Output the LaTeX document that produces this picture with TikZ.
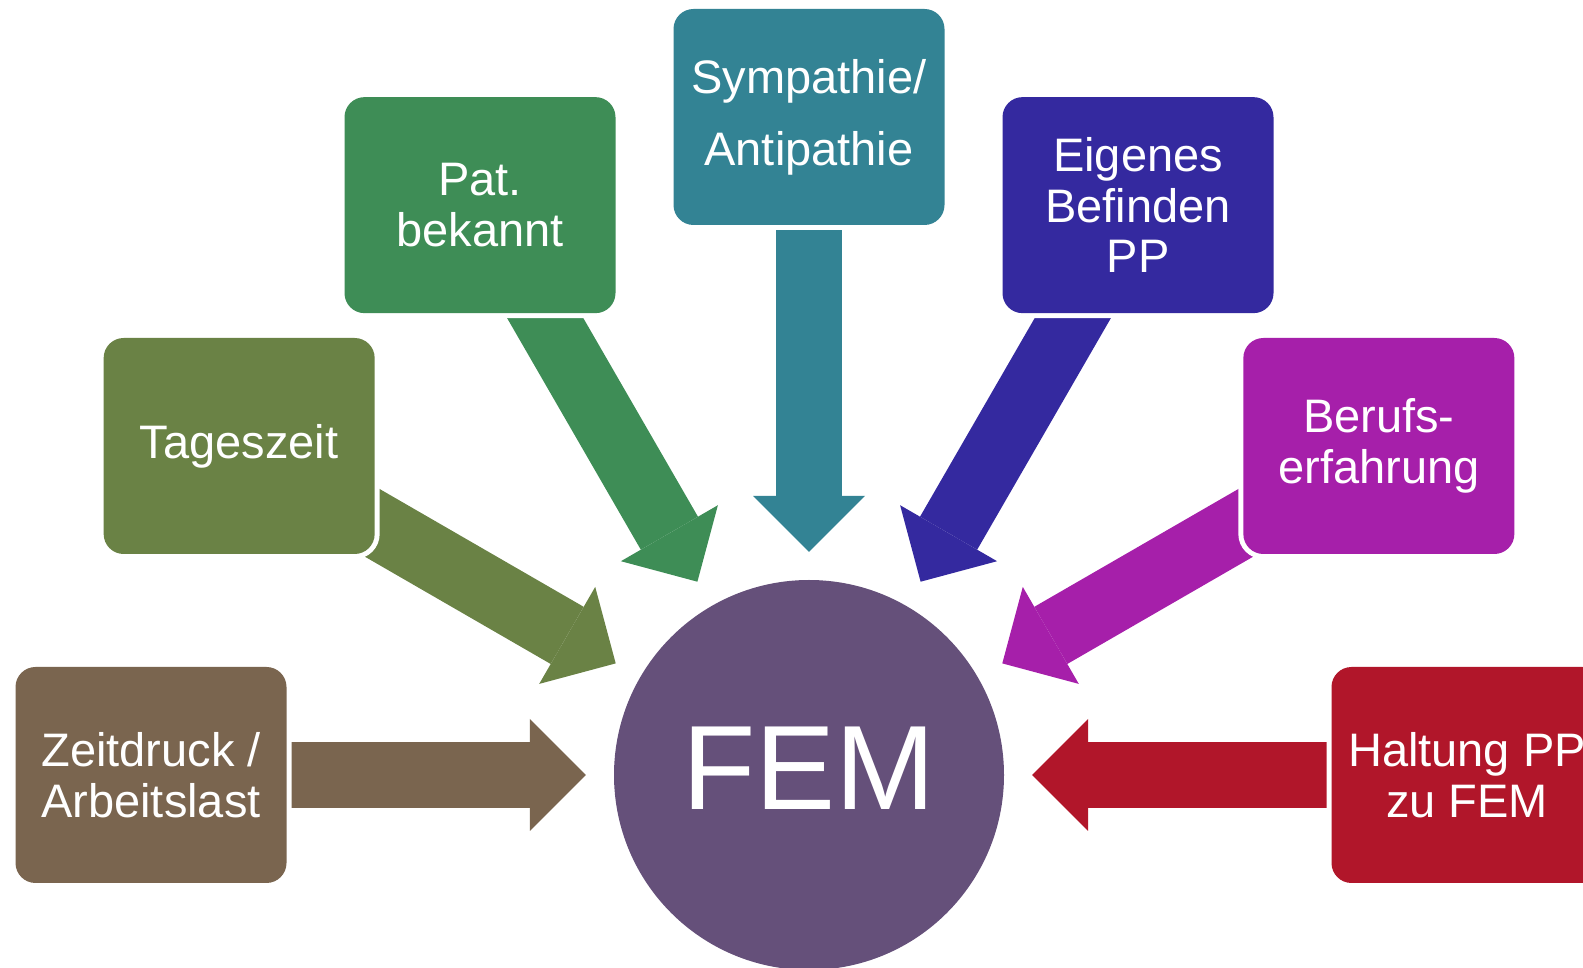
\documentclass[tikz,border=0pt]{standalone}
\usepackage{fontspec}
\setmainfont{Liberation Sans}
\usetikzlibrary{arrows.meta}
\pgfdeclarelayer{background}
\pgfsetlayers{background,main}

\definecolor{zeitc}{HTML}{7A654F}
\definecolor{tagesc}{HTML}{6A8245}
\definecolor{patc}{HTML}{3E8D56}
\definecolor{sympc}{HTML}{338394}
\definecolor{eigenc}{HTML}{34299F}
\definecolor{berufc}{HTML}{A61FAA}
\definecolor{haltc}{HTML}{B1162A}
\definecolor{femc}{HTML}{65507A}

\begin{document}
\begin{tikzpicture}[x=1pt, y=1pt,
    box/.style={rounded corners=20pt, minimum width=271pt, minimum height=216pt,
      inner sep=0pt, text=white, align=center, font=\fontsize{47}{50.5}\selectfont,
      preaction={draw=white, line width=10pt}},
    fatarrow/.style={line width=66pt, -{Triangle[width=112pt, length=56pt, line width=0pt]},
      shorten >=28pt}]
  % Canvas
  \useasboundingbox (0,0) rectangle (1583,967);

  % Centre
  \node[circle, fill=femc, minimum size=390pt, inner sep=0pt, text=white,
    font=\fontsize{120}{120}\selectfont, text depth=14pt] (fem) at (809,192) {FEM};

  % Factors round the centre
  \node[box, fill=zeitc] (zeit) at ([shift={(180:658)}]fem.center) {Zeitdruck /\\Arbeitslast};
  \node[box, fill=tagesc] (tages) at ([shift={(150:658)}]fem.center) {Tageszeit};
  \node[box, fill=patc] (pat) at ([shift={(120:658)}]fem.center) {Pat.\\bekannt};
  \node[box, fill=sympc, font=\fontsize{47}{72}\selectfont] (symp) at ([shift={(90:658)}]fem.center) {Sympathie/\\Antipathie};
  \node[box, fill=eigenc] (eigen) at ([shift={(60:658)}]fem.center) {Eigenes\\Befinden\\PP};
  \node[box, fill=berufc] (beruf) at ([shift={(30:658)}]fem.center) {Berufs-\\erfahrung};
  \node[box, fill=haltc] (halt) at ([shift={(0:658)}]fem.center) {Haltung PP\\zu FEM};

  % Arrows
  \begin{pgfonlayer}{background}
    \draw[fatarrow, zeitc] (zeit.center) -- (fem);
    \draw[fatarrow, tagesc] (tages.center) -- (fem);
    \draw[fatarrow, patc] (pat.center) -- (fem);
    \draw[fatarrow, sympc] (symp.center) -- (fem);
    \draw[fatarrow, eigenc] (eigen.center) -- (fem);
    \draw[fatarrow, berufc] (beruf.center) -- (fem);
    \draw[fatarrow, haltc] (halt.center) -- (fem);
  \end{pgfonlayer}
\end{tikzpicture}
\end{document}
